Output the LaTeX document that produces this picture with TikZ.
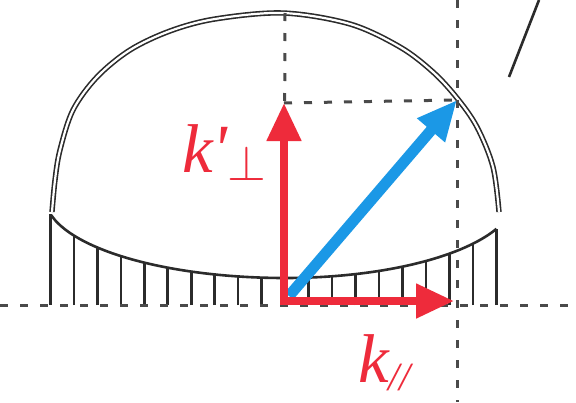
\documentclass[tikz,border=0pt]{standalone}
\usepackage{fontspec}
\usepackage{graphicx}
\setmainfont{Liberation Serif}
\usetikzlibrary{arrows.meta}
\definecolor{Ink}{HTML}{2B2B2B}
\definecolor{Guide}{HTML}{4A4A4A}
\definecolor{KRed}{HTML}{EE2B3B}
\definecolor{KBlue}{HTML}{1B98E6}

\begin{document}
\begin{tikzpicture}[x=1pt,y=-1pt,
  guide/.style={draw=Guide,line width=3pt,dash pattern=on 8pt off 12pt},
  shell/.style={draw=Ink,double=white,line width=1.6pt,double distance=2.2pt},
  bowl/.style={draw=Ink,line width=2.6pt},
  hatch/.style={draw=Ink,line width=2.6pt},
  kred/.style={draw=KRed,line width=8pt,line cap=rect,-{Triangle[length=38pt,width=33pt]}},
  kblue/.style={draw=KBlue,line width=11pt,-{Triangle[length=40pt,width=34pt]}},
  klabel/.style={text=KRed,inner sep=0pt,font=\fontsize{69}{69}\selectfont}
]
\useasboundingbox[fill=white] (0,0) rectangle (576,402);
\coordinate (O) at (284,301);
\coordinate (Top) at (285,13);
\coordinate (Kperp) at (284,103);
\coordinate (Kpar) at (454,301);
\coordinate (Kb0) at (289,296);
\coordinate (K) at (457,100);
\draw[shell] plot[smooth,tension=0.55] coordinates {(52,212) (55,180) (60,150) (73,110) (97,77) (130,50) (170,31) (215,19) (283,13) (350,24) (400,47) (433,72) (457,98) (477,127) (493,167) (499,212)};
\draw[bowl] plot[domain=-234:0,samples=50] ({285+\x},{197+81*sqrt(1-(\x/240)^2)}) -- plot[domain=0:211.5,samples=50] ({285+\x},{197+81*sqrt(1-(\x/230)^2)});
\foreach \k in {1,...,10}
  \draw[hatch] ({285-23.45*\k},305) -- ({285-23.45*\k},{197+81*sqrt(1-(23.45*\k/240)^2)});
\foreach \k in {1,...,9}
  \draw[hatch] ({285+23.5*\k},305) -- ({285+23.5*\k},{197+81*sqrt(1-(23.5*\k/230)^2)});
\draw[bowl] (509,77) -- (539,0);
\draw[guide] (Top) -- (O);
\draw[guide] (Kperp) -- (K);
\draw[guide] (457,0) -- (457,402);
\draw[guide] (0,305) -- (576,305);
\draw[kblue] (Kb0) -- (K);
\draw[kred] (O) -- (Kperp);
\draw[kred] (O) -- (Kpar);
\node[klabel,anchor=base west] (kperp) at (182,172) {\itshape k\textquotesingle\raisebox{-8pt}{\scalebox{2}{$\perp$}}};
\node[klabel,anchor=base west] (kpar) at (358,382) {\itshape k\raisebox{-8pt}{\fontsize{40}{40}\selectfont //}};
\end{tikzpicture}
\end{document}
